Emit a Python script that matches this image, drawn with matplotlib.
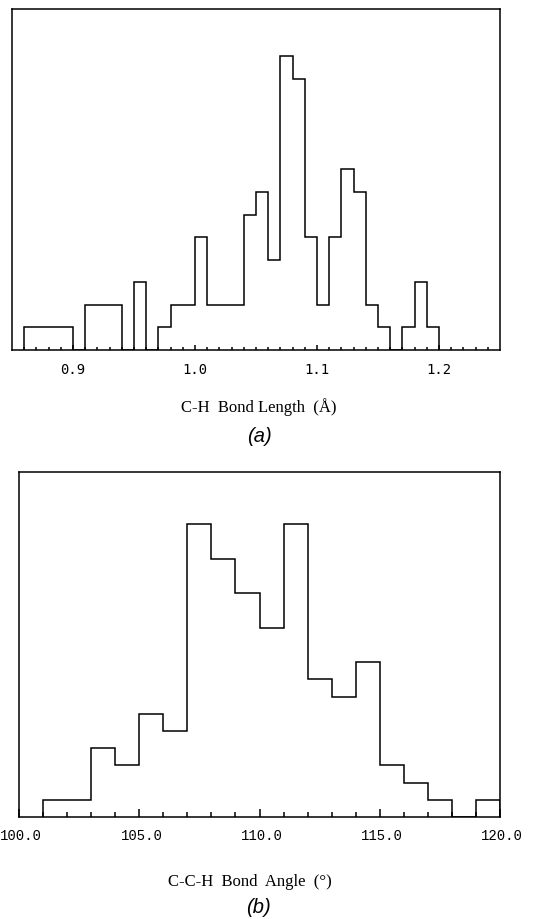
import matplotlib
matplotlib.use('Agg')
import matplotlib.pyplot as plt
import matplotlib.transforms as mtransforms
import numpy as np

# ---- data: panel (a) C-H bond length histogram (bin width 0.01, from 0.86) ----
a_bin_start = 0.86
a_bin_width = 0.01
a_counts = [1, 1, 1, 1, 0, 2, 2, 2, 0, 3, 0, 1, 2, 2, 5, 2, 2, 2, 6, 7, 4,
            13, 12, 5, 2, 5, 8, 7, 2, 1, 0, 1, 3, 1]
a_tick_values = [0.9, 1.0, 1.1, 1.2]
a_tick_labels = ["0.9", "1.0", "1.1", "1.2"]

# ---- data: panel (b) C-C-H bond angle histogram (bin width 1, from 101) ----
b_bin_start = 101
b_bin_width = 1
b_counts = [1, 1, 4, 3, 6, 5, 17, 15, 13, 11, 17, 8, 7, 9, 3, 2, 1, 0, 1]
b_tick_values = [100, 105, 110, 115, 120]
b_tick_labels = ["100.0", "105.0", "110.0", "115.0", "120.0"]

W, H = 544, 920
fig = plt.figure(figsize=(W / 100, H / 100), dpi=100)
fig.patch.set_facecolor('white')

lw = 1.1

def style_axes(ax, minor_len, major_len, pad):
    for s in ax.spines.values():
        s.set_linewidth(lw)
        s.set_color('black')
    ax.set_yticks([])
    ax.tick_params(axis='x', which='both', direction='in', top=False,
                   bottom=True, width=lw, color='black', pad=pad)
    ax.tick_params(axis='x', which='major', length=major_len)
    ax.tick_params(axis='x', which='minor', length=minor_len)

# panel (a)
axa = fig.add_axes([12 / W, 1 - 351 / H, (500 - 12) / W, (351 - 10) / H])
a_edges = np.round(a_bin_start + a_bin_width * np.arange(len(a_counts) + 1), 3)
axa.stairs(a_counts, a_edges, baseline=0, color='black', linewidth=lw)
axa.set_xlim(0.85, 1.25)
axa.set_ylim(0, 15.1)
axa.set_xticks(a_tick_values)
axa.set_xticklabels(a_tick_labels, family='DejaVu Sans Mono', fontsize=10)
axa.set_xticks(np.round(np.arange(0.86, 1.245, 0.01), 3), minor=True)
style_axes(axa, 2.2, 3.6, 9)

# panel (b)
axb = fig.add_axes([19 / W, 1 - 818 / H, (500 - 19) / W, (818 - 473) / H])
b_edges = b_bin_start + b_bin_width * np.arange(len(b_counts) + 1)
axb.stairs(b_counts, b_edges, baseline=0, color='black', linewidth=lw)
axb.set_xlim(100, 120)
axb.set_ylim(0, 20.05)
axb.set_xticks(b_tick_values)
axb.set_xticklabels(b_tick_labels, family='Liberation Mono', fontsize=10)
axb.set_xticks(np.arange(101, 120, 1), minor=True)
style_axes(axb, 3.6, 5.8, 8)
shift = mtransforms.ScaledTranslation(2.2 / 100, 0, fig.dpi_scale_trans)
for lab in axb.get_xticklabels():
    lab.set_transform(lab.get_transform() + shift)

# labels
fig.text(259 / W, 1 - 407 / H, "C-H  Bond Length  (Å)", ha='center', va='center',
         family='Liberation Serif', fontsize=12)
fig.text(259 / W, 1 - 437 / H, "(a)", ha='center', va='center',
         family='Liberation Sans', style='italic', fontsize=14.5)
fig.text(250 / W, 1 - 882 / H, "C-C-H  Bond  Angle  (°)", ha='center', va='center',
         family='Liberation Serif', fontsize=12)
fig.text(258 / W, 1 - 908 / H, "(b)", ha='center', va='center',
         family='Liberation Sans', style='italic', fontsize=14.5)

fig.savefig('out.png', dpi=100, facecolor='white')
